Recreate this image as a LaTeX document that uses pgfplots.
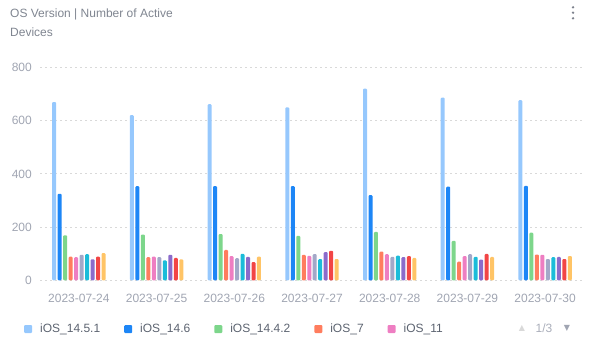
\documentclass[border=0pt]{standalone}
\usepackage{pgfplots}
\pgfplotsset{compat=1.18}
\usepackage{fontspec}
\setmainfont{Liberation Sans}
\newfontfamily\symfont{DejaVu Sans}
\definecolor{c1}{HTML}{96C8FD}
\definecolor{c2}{HTML}{1D86F6}
\definecolor{c3}{HTML}{7DD68B}
\definecolor{c4}{HTML}{FF7D5E}
\definecolor{c5}{HTML}{EE7EC2}
\definecolor{c6}{HTML}{A3A8C8}
\definecolor{c7}{HTML}{1BBCD9}
\definecolor{c8}{HTML}{8B6BCB}
\definecolor{c9}{HTML}{F24545}
\definecolor{c10}{HTML}{FFC466}
\definecolor{titlec}{HTML}{7F8590}
\definecolor{tickc}{HTML}{A0A5B2}
\definecolor{legc}{HTML}{5C6370}
\definecolor{gridc}{HTML}{D9D9D9}
\begin{document}
\begin{tikzpicture}[x=1bp,y=1bp]
\path[use as bounding box] (0,0) rectangle (592,351);
\node[anchor=base west, text=titlec, font=\fontsize{12bp}{14bp}\selectfont, inner sep=0] at (10,333.5) {OS Version | Number of Active};
\node[anchor=base west, text=titlec, font=\fontsize{12bp}{14bp}\selectfont, inner sep=0] at (10,314.5) {Devices};
\foreach \yy in {343.7,338.3,332.7} \fill[legc!80] (573,\yy) circle (1.3);
\begin{axis}[
  at={(40bp,70.7bp)}, anchor=south west,
  scale only axis, width=544bp, height=212.8bp,
  xmin=-0.5, xmax=6.5, ymin=0, ymax=800,
  axis line style={draw=none}, clip=false,
  ybar=1.49bp, bar width=4bp,
  ytick={0,200,400,600,800},
  xtick={0,...,6},
  xticklabels={2023-07-24,2023-07-25,2023-07-26,2023-07-27,2023-07-28,2023-07-29,2023-07-30},
  major tick length=0pt,
  /pgf/number format/assume math mode=true,
  ymajorgrids,
  grid style={gridc, line width=1bp, dash pattern=on 2bp off 3bp},
  tick label style={font=\fontsize{12bp}{14bp}\selectfont, text=tickc, inner sep=0pt},
  yticklabel style={anchor=east, xshift=-8bp},
  xticklabel style={anchor=base, yshift=-22bp},
  every axis plot/.append style={draw=none, rounded corners=1bp,
    legend image code/.code={\fill[##1] (0bp,-4bp) rectangle (8bp,4bp);}},
  legend columns=5,
  legend style={draw=none, fill=none, at={(-0.0294,-0.229)}, anchor=west, inner sep=0pt,
    font=\fontsize{12bp}{14bp}\selectfont, text=legc,
    nodes={inner sep=0pt, anchor=west},
    /tikz/every odd column/.append style={column sep=8bp},
    /tikz/every even column/.append style={column sep=24bp}},
]
\addplot[fill=c1] coordinates {(0,670) (1,621) (2,662) (3,650) (4,721) (5,687) (6,677)};
\addplot[fill=c2] coordinates {(0,325) (1,354) (2,354) (3,354) (4,320) (5,352) (6,355)};
\addplot[fill=c3] coordinates {(0,169) (1,172) (2,174) (3,167) (4,182) (5,148) (6,179)};
\addplot[fill=c4] coordinates {(0,89) (1,87) (2,114) (3,96) (4,108) (5,70) (6,97)};
\addplot[fill=c5] coordinates {(0,87) (1,89) (2,91) (3,92) (4,98) (5,91) (6,96)};
\addplot[fill=c6] coordinates {(0,96) (1,87) (2,83) (3,98) (4,88) (5,98) (6,80)};
\addplot[fill=c7] coordinates {(0,98) (1,75) (2,99) (3,80) (4,93) (5,88) (6,87)};
\addplot[fill=c8] coordinates {(0,79) (1,96) (2,88) (3,106) (4,87) (5,78) (6,88)};
\addplot[fill=c9] coordinates {(0,89) (1,84) (2,68) (3,111) (4,91) (5,99) (6,80)};
\addplot[fill=c10] coordinates {(0,102) (1,79) (2,89) (3,80) (4,84) (5,88) (6,91)};
\legend{iOS\_14.5.1, iOS\_14.6, iOS\_14.4.2, iOS\_7, iOS\_11}
\end{axis}
\node[anchor=center, text=gridc, font=\symfont\fontsize{8bp}{9bp}\selectfont, inner sep=0] at (522,23) {▲};
\node[anchor=center, text=tickc!90, font=\fontsize{12bp}{14bp}\selectfont, inner sep=0] at (544,23) {1/3};
\node[anchor=center, text=tickc, font=\symfont\fontsize{8bp}{9bp}\selectfont, inner sep=0] at (567,23) {▼};
\end{tikzpicture}
\end{document}
